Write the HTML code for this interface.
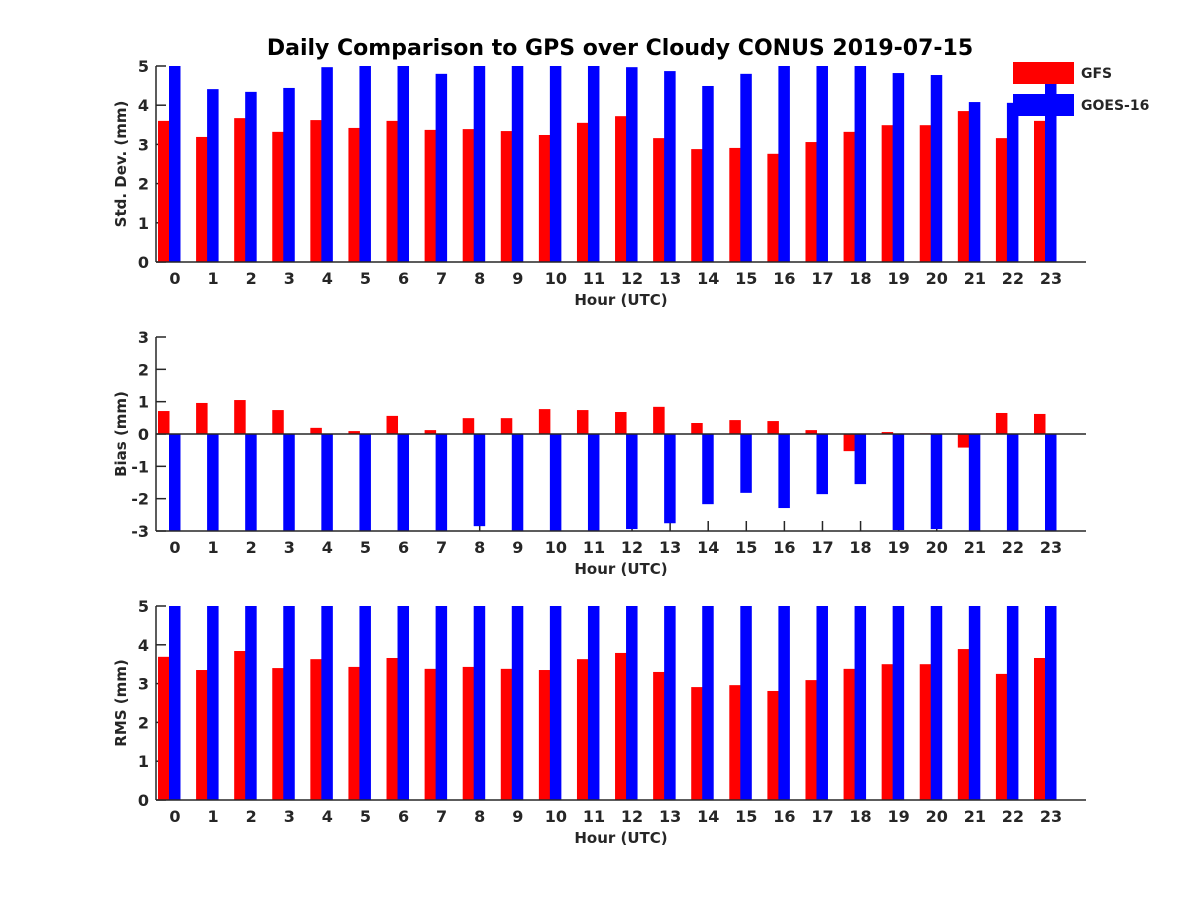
<!DOCTYPE html>
<html><head><meta charset="utf-8"><style>
body{margin:0;background:#fff}
svg text{font-family:"DejaVu Sans","Liberation Sans",sans-serif;font-weight:bold;fill:#262626}
</style></head><body>
<svg id="c" width="1200" height="900" xmlns="http://www.w3.org/2000/svg">
<text x="620" y="55" font-size="22" text-anchor="middle" style="fill:#000">Daily Comparison to GPS over Cloudy CONUS 2019-07-15</text>
</svg>
<script>
const hours = [0,1,2,3,4,5,6,7,8,9,10,11,12,13,14,15,16,17,18,19,20,21,22,23];
const stdGFS = [3.6,3.19,3.67,3.32,3.62,3.42,3.6,3.37,3.39,3.34,3.24,3.55,3.72,3.16,2.88,2.91,2.76,3.06,3.32,3.49,3.49,3.85,3.16,3.6];
const stdGOES = [5.6,4.41,4.34,4.44,4.97,5.6,5.6,4.8,5.6,5.6,5.6,5.6,4.97,4.87,4.49,4.8,5.6,5.6,5.6,4.82,4.77,4.08,4.06,5.6];
const biasGFS = [0.71,0.96,1.05,0.74,0.19,0.09,0.56,0.12,0.49,0.49,0.77,0.74,0.68,0.84,0.34,0.43,0.40,0.12,-0.53,0.06,0.02,-0.42,0.65,0.62];
const biasGOES = [-3.5,-3.5,-3.5,-3.5,-3.5,-3.5,-3.5,-3.5,-2.85,-3.5,-3.5,-3.5,-2.94,-2.76,-2.17,-1.82,-2.29,-1.86,-1.55,-2.97,-2.94,-3.5,-3.5,-3.5];
const rmsGFS = [3.69,3.35,3.84,3.4,3.63,3.43,3.66,3.38,3.43,3.38,3.35,3.63,3.79,3.3,2.91,2.96,2.81,3.09,3.38,3.5,3.5,3.89,3.25,3.66];
const rmsGOES = [6,6,6,6,6,6,6,6,6,6,6,6,6,6,6,6,6,6,6,6,6,6,6,6];
const stdTicks = [0,1,2,3,4,5];
const biasTicks = [-3,-2,-1,0,1,2,3];
const rmsTicks = [0,1,2,3,4,5];

const svg = document.getElementById('c');
const NS = 'http://www.w3.org/2000/svg';
function mk(tag, attrs, parent){const e=document.createElementNS(NS,tag);for(const k in attrs)e.setAttribute(k,attrs[k]);(parent||svg).appendChild(e);return e;}
const X0=156, X1=1086;
function xs(h){return 175 + h*(1051-175)/23;}

function panel(name, top, bot, ymin, ymax, ticks, g1, g2, ylab){
  const g = mk('g',{});
  
  
  const ys = v => bot - (v-ymin)/(ymax-ymin)*(bot-top);
  const base = ys(Math.max(ymin, Math.min(0, ymax)));
  // ticks first (bars cover them)
  ticks.forEach(t=>{
    const y = ys(t);
    mk('line',{x1:X0,y1:y,x2:X0+10,y2:y,stroke:'#262626','stroke-width':1.5},g);
    const tx = mk('text',{x:X0-7,y:y+6,'font-size':16,'text-anchor':'end'},g);
    tx.textContent = t;
    
    
  });
  hours.forEach(h=>{
    const x = xs(h);
    mk('line',{x1:x,y1:bot,x2:x,y2:bot-10,stroke:'#262626','stroke-width':1.5},g);
    const tx = mk('text',{x:x,y:bot+22,'font-size':16,'text-anchor':'middle'},g);
    tx.textContent = h;
    
    
  });
  const clip = mk('clipPath',{id:'cl-'+name},g);
  mk('rect',{x:X0,y:top,width:X1-X0,height:bot-top},clip);
  const bars = mk('g',{'clip-path':'url(#cl-'+name+')'},g);
  hours.forEach((h,i)=>{
    const c = xs(h);
    [[g1[i],'#ff0000',c-17,'gfs'],[g2[i],'#0000ff',c-6,'goes16']].forEach(([v,col,x,s])=>{
      const y = ys(v);
      const r = mk('rect',{x:x,y:Math.min(y,base),width:11.5,height:Math.abs(y-base),fill:col},bars);
      
      
    });
  });
  mk('line',{x1:X0,y1:top,x2:X0,y2:bot,stroke:'#262626','stroke-width':1.5},g);
  mk('line',{x1:X0,y1:ys(ymin),x2:X1,y2:ys(ymin),stroke:'#262626','stroke-width':1.5},g);
  if(ymin<0) mk('line',{x1:X0,y1:ys(0),x2:X1,y2:ys(0),stroke:'#262626','stroke-width':1.5},g);
  const xl = mk('text',{x:621,y:bot+43,'font-size':15,'text-anchor':'middle'},g);
  xl.textContent='Hour (UTC)';
  
  
  const yl = mk('text',{x:0,y:0,'font-size':15,'text-anchor':'middle',transform:'translate(126,'+((top+bot)/2)+') rotate(-90)'},g);
  yl.textContent=ylab;
  
  
}
panel('std',66,262,0,5,stdTicks,stdGFS,stdGOES,'Std. Dev. (mm)');
panel('bias',337,531,-3,3,biasTicks,biasGFS,biasGOES,'Bias (mm)');
panel('rms',606,800,0,5,rmsTicks,rmsGFS,rmsGOES,'RMS (mm)');

const lg = mk('g',{});


[['GFS','#ff0000',62],['GOES-16','#0000ff',94]].forEach(([t,c,y])=>{
  const r = mk('rect',{x:1013,y:y,width:61,height:22,fill:c},lg);
  
  
  const tx = mk('text',{x:1081,y:y+16,'font-size':14},lg);
  tx.textContent=t;
  
  
});
</script>
</body></html>
